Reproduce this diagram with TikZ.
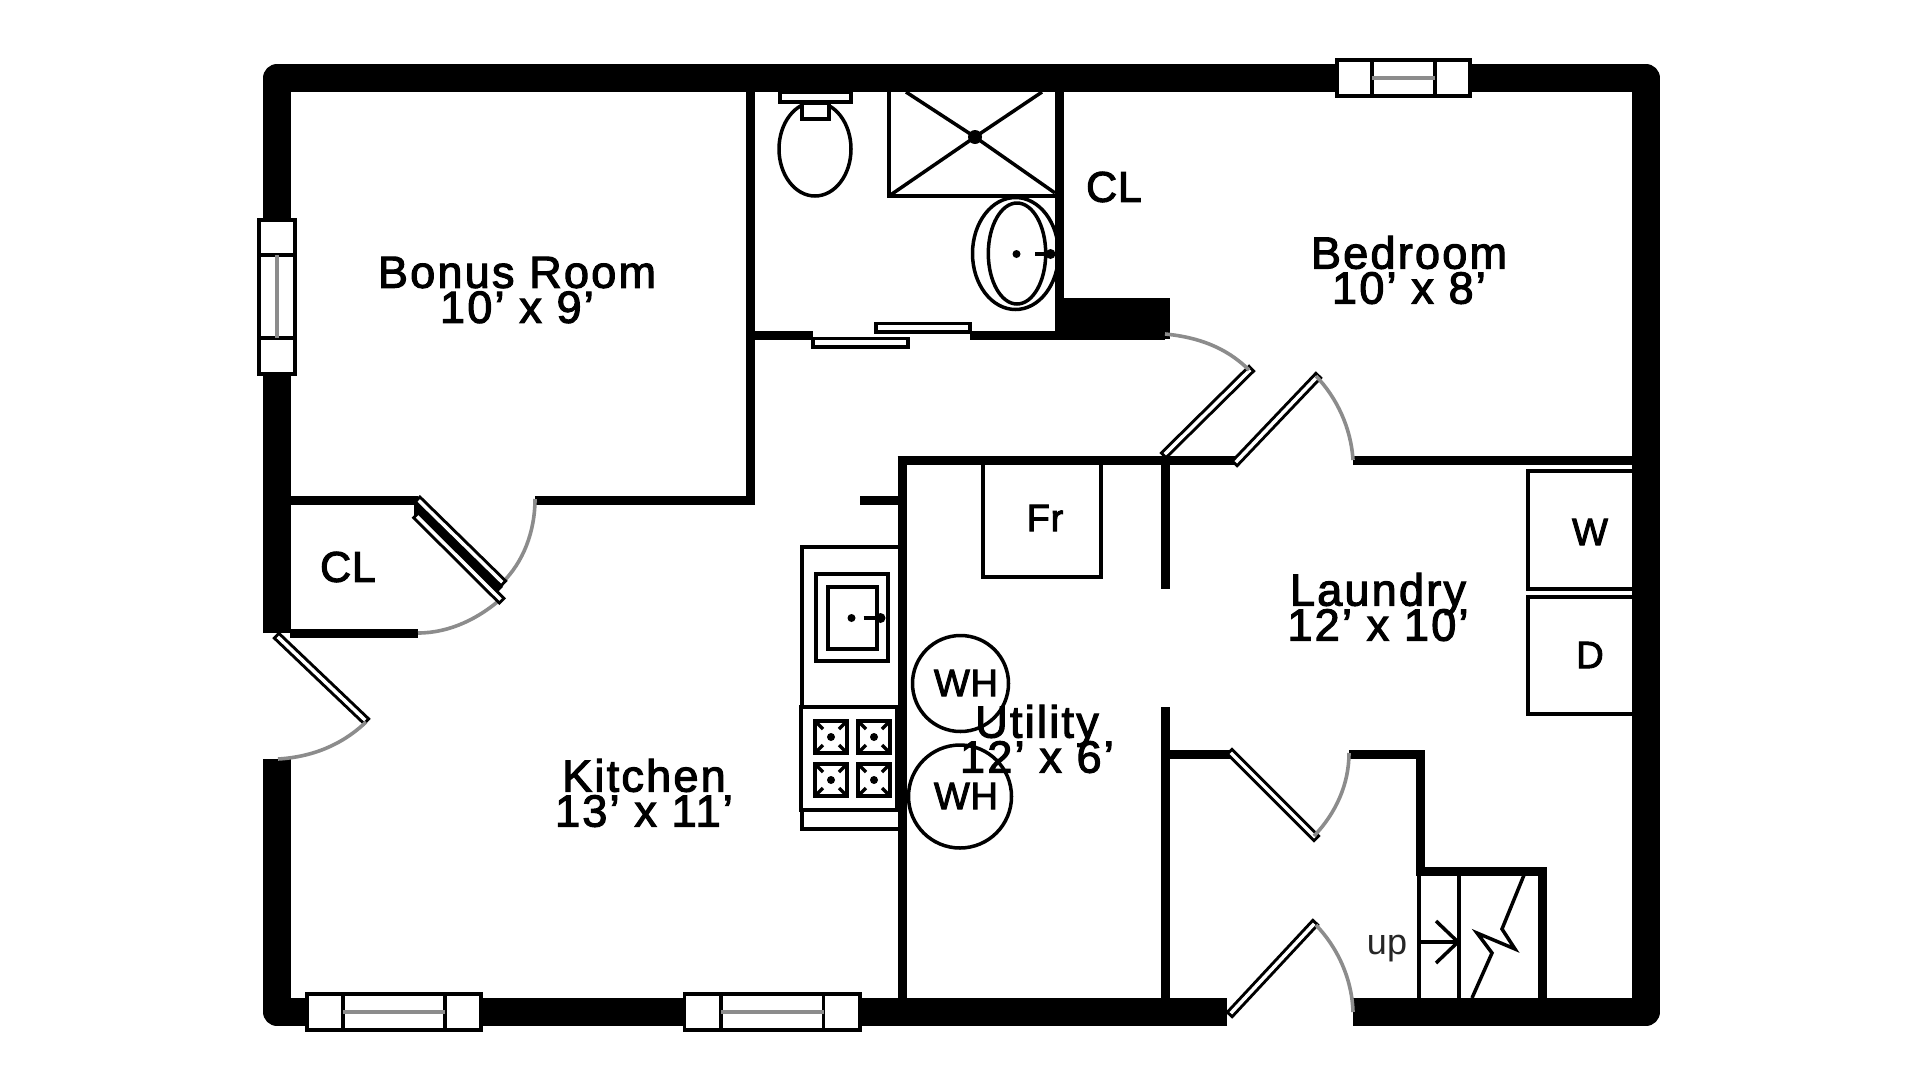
\documentclass[tikz,border=0pt]{standalone}
\usepackage{fontspec}
\setmainfont{Liberation Sans}
\newfontfamily\roomfont{Liberation Sans}[LetterSpace=5,FakeBold=2.5]
\newfontfamily\tagfont{Liberation Sans}[LetterSpace=2,FakeBold=2.5]
\usetikzlibrary{calc}
\newcommand{\roomsize}{\roomfont\fontsize{45}{35}\selectfont\lineskiplimit-100pt\relax}
\tikzset{
  wall/.style={line width=9pt},
  outerwall/.style={line width=27.5pt,line join=round},
  thinline/.style={line width=3.5pt},
  leaf/.style={line width=3pt,double=white,double distance=3.5pt,line cap=rect},
  swing/.style={line width=3.6pt,color=gray!90},
  winpane/.style={line width=3.5pt,fill=white},
  room/.style={align=center,font=\roomsize,inner sep=0pt},
  tag/.style={font=\tagfont\fontsize{43}{43}\selectfont,inner sep=0pt},
  smalltag/.style={font=\tagfont\fontsize{38}{38}\selectfont,inner sep=0pt},
}
% window across a wall: corners, then the two inner bars
\newcommand{\winH}[4]{
\draw [winpane] (#1,#3-18)rectangle(#2,#3+18);
\draw [thinline] (#4,#3-18)--(#4,#3+18);
\draw [thinline] (#1+#2-#4,#3-18)--(#1+#2-#4,#3+18);
\draw [swing] (#4,#3)--(#1+#2-#4,#3);
}
\begin{document}
\begin{tikzpicture}[x=1pt,y=-1pt]
\useasboundingbox (0,0) rectangle (1920,1080);
\fill [white] (0,0) rectangle (1920,1080);

% outer walls
\draw [outerwall] (277,633)--(277,78)--(1646,78)--(1646,1012)--(1353,1012);
\draw [outerwall] (1227,1012)--(277,1012)--(277,759);

% inner walls
\draw [wall] (750.5,92)--(750.5,505);
\draw [wall] (755,500.5)--(535,500.5);
\draw [wall] (418,500.5)--(290,500.5);
\draw [wall] (290,633.5)--(418,633.5);
\draw [wall] (755,335)--(813,335);
\draw [wall] (970,335)--(1165,335);
\draw [wall] (1059,92)--(1059,335);
\fill (1059,298) rectangle (1170,339);
\draw [wall] (860,500.5)--(902,500.5);
\draw [wall] (902,456)--(902,998);
\draw [wall] (897.5,460.5)--(1235,460.5);
\draw [wall] (1353,460.5)--(1633,460.5);
\draw [wall] (1165.5,456)--(1165.5,589);
\draw [wall] (1165.5,707)--(1165.5,998);
\draw [wall] (1170,754.5)--(1231,754.5);
\draw [wall] (1349,754.5)--(1420,754.5)--(1420,871)--(1542,871)--(1542,998);

% windows
\winH{307}{481}{1012}{343}
\winH{684.5}{860}{1012}{721}
\winH{1337}{1470}{78}{1372}
\draw [winpane] (259,220) rectangle (295,374);
\draw [thinline] (259,255)--(295,255);
\draw [thinline] (259,338)--(295,338);
\draw [swing] (277,255)--(277,338);

% doors
\draw [leaf] (1249,371)--(1166,453);
\draw [swing] (1165,334) .. controls (1197,337) and (1226,347) .. (1249,370);
\draw [leaf] (1316,378)--(1237,461);
\draw [swing] (1316,376) .. controls (1337,398) and (1351,428) .. (1353,460);
\draw [leaf] (1232,754)--(1314,836);
\draw [swing] (1314,836) .. controls (1336,813) and (1349,784) .. (1349,753);
\draw [leaf] (1313,925)--(1232,1012);
\draw [swing] (1316,925) .. controls (1337,947) and (1352,978) .. (1353,1012);
\draw [leaf] (279,638)--(364,719);
\draw [swing] (366,722) .. controls (342,745) and (312,757) .. (278,759);
\draw [swing] (503,582) .. controls (523,562) and (535,532) .. (535,499);
\draw [swing] (503,597) .. controls (480,618) and (450,633) .. (418,633);
\fill (414,500) -- (420,496) -- (424,518) -- (414,518) -- cycle;
\draw [line width=8pt] (419.2,509.7)--(500.2,589.7);
\draw [leaf] (420,501.7)--(501,581);
\draw [leaf] (418.3,517.7)--(499.3,598.3);

% sliding doors
\draw [thinline,fill=white] (813,338.5) rectangle (908,347);
\draw [thinline,fill=white] (876,323.5) rectangle (970,332);

% toilet
\draw [thinline] (780,92) rectangle (851,102);
\draw [thinline] (815,149) ellipse (36 and 47);
\draw [thinline,fill=white] (802,103) rectangle (829,119);

% shower
\draw [thinline] (889,92)--(889,196)--(1055,196);
\draw [thinline] (889,196)--(975,137)--(1055,193);
\draw [thinline] (906,92)--(975,137)--(1042,92);
\fill (975,137) circle (7);

% basin
\draw [thinline] (1015.5,253.5) ellipse (43 and 56);
\draw [thinline] (1017,253.5) ellipse (28.7 and 50.5);
\fill (1016.5,254) circle (4);
\draw [thinline] (1035,254)--(1050,254);
\fill (1050.5,254) circle (5);

% counter and sink
\draw [thinline] (898,547)--(802,547)--(802,829)--(898,829);
\draw [thinline] (816,574) rectangle (888,661);
\draw [thinline] (828,587) rectangle (877,649);
\fill (851.5,618) circle (4);
\draw [thinline] (863.5,618)--(880,618);
\fill (880.5,618) circle (5);

% range
\draw [thinline,fill=white] (801,707) rectangle (897,810);
\foreach \cx in {831,874}{
\foreach \cy in {737,780}{
\draw [line width=4.5pt] (\cx-16,\cy-16) rectangle (\cx+16,\cy+16);
\fill (\cx,\cy) circle (4);
\foreach \sx/\sy in {1/1,1/-1,-1/1,-1/-1}{
\draw [thinline] (\cx+\sx*16,\cy+\sy*16)--(\cx+\sx*8,\cy+\sy*8);
}
}
}

% utility fixtures
\draw [thinline] (960.5,683.5) circle (48);
\draw [thinline] (960,796.5) circle (51.5);
\draw [thinline] (983,465)--(983,577)--(1101,577)--(1101,465);
\draw [thinline] (1633,471)--(1528,471)--(1528,589)--(1633,589);
\draw [thinline] (1633,597)--(1528,597)--(1528,714)--(1633,714);

% stairs
\draw [thinline] (1419,875)--(1419,998);
\draw [thinline] (1459,875)--(1459,998);
\draw [thinline] (1421,942)--(1458,942);
\draw [thinline] (1436,921)--(1458,942)--(1436,963);
\draw [thinline] (1524,875)--(1502,929)--(1515,949)--(1477,933)--(1492,953)--(1472,998);

% labels
\node [room] (bonus) at (517,290) {Bonus Room\\10’ x 9’};
\node [room] (bedroom) at (1409,270) {Bedroom\\10’ x 8’};
\node [room] (kitchen) at (644,793) {Kitchen\\13’ x 11’};
\node [room] (laundry) at (1378,607) {Laundry\\12’ x 10’};
\node [room] (utility) at (1037,739) {Utility\\12’ x 6’};
\node [tag] (clbed) at (1114,187) {CL};
\node [tag] (clkit) at (348,567) {CL};
\node [smalltag] (fr) at (1045,518) {Fr};
\node [smalltag] (wash) at (1590,532) {W};
\node [smalltag] (dry) at (1590,655) {D};
\node [smalltag] (wha) at (966,683) {WH};
\node [smalltag] (whb) at (966,796) {WH};
\node [font=\fontsize{36}{36}\selectfont,inner sep=0pt,color=black!85] (up) at (1387,949) {up};
\end{tikzpicture}
\end{document}
